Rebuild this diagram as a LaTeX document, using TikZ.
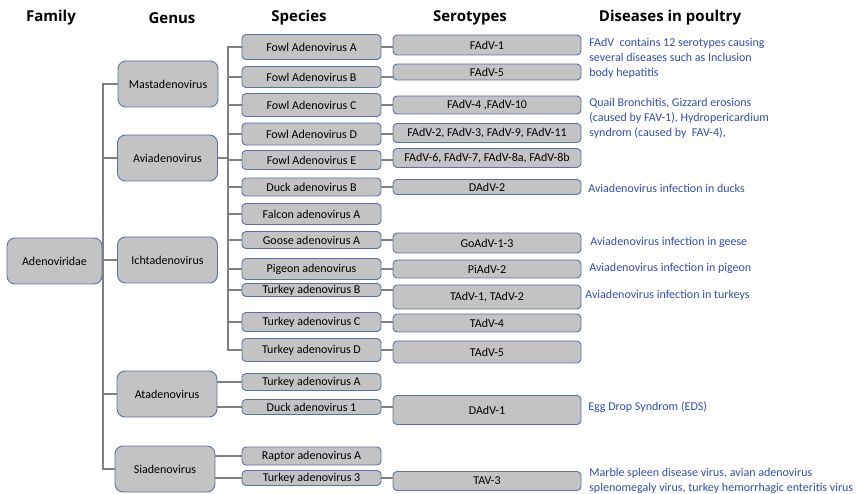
\documentclass[tikz,border=0pt]{standalone}
\usepackage{fontspec}
\setmainfont{Carlito}
\newfontfamily\headfont{Open Sans}
\usepackage{tikz}
\usetikzlibrary{positioning}

\definecolor{boxfill}{RGB}{195,195,195}
\definecolor{boxline}{RGB}{85,115,170}
\definecolor{linkgray}{RGB}{128,128,128}
\definecolor{diseaseblue}{RGB}{50,75,180}

\begin{document}
\begin{tikzpicture}[
    x = 1pt,
    y = -1pt,
    semithick,
    ]

    \tikzstyle{every node}=[font=\fontsize{12}{15}\selectfont]
    \tikzstyle{taxon}=[draw = boxline, fill = boxfill, line width=0.9pt, inner sep=0pt]
    \tikzstyle{genusbox}=[taxon, rounded corners=8pt, minimum width=100pt, minimum height=46pt]
    \tikzstyle{speciesbox}=[taxon, rounded corners=4pt, minimum width=139pt]
    \tikzstyle{serobox}=[taxon, rounded corners=4pt, minimum width=188pt]
    \tikzstyle{head}=[font=\headfont\bfseries\fontsize{15}{17}\selectfont]
    \tikzstyle{disease}=[text = diseaseblue, align=left, anchor=west, inner sep=0pt]
    \tikzstyle{link}=[draw = linkgray, line width=2pt]

    \useasboundingbox (0,0) rectangle (857,494);

    % column heads
    \node[head] (hfam) at (51,18) {Family};
    \node[head] (hgen) at (172,18) {Genus};
    \node[head] (hspe) at (299,18) {Species};
    \node[head] (hser) at (470,18) {Serotypes};
    \node[head] (hdis) at (670,18) {Diseases in poultry};

    % family and genera
    \node[genusbox, minimum width=95pt] (fam) at (54.5,261) {Adenoviridae};
    \node[genusbox] (mast) at (168,84) {Mastadenovirus};
    \node[genusbox] (avia) at (167.5,158) {Aviadenovirus};
    \node[genusbox] (icht) at (167.5,260) {Ichtadenovirus};
    \node[genusbox] (atad) at (167,394) {Atadenovirus};
    \node[genusbox] (siad) at (165,469) {Siadenovirus};

    % species
    \node[speciesbox, minimum height=25pt] (fowla) at (311.5,47) {Fowl Adenovirus A};
    \node[speciesbox, minimum height=21pt] (fowlb) at (311.5,77) {Fowl Adenovirus B};
    \node[speciesbox, minimum height=23pt] (fowlc) at (311.5,105) {Fowl Adenovirus C};
    \node[speciesbox, minimum height=22pt] (fowld) at (311.5,134) {Fowl Adenovirus D};
    \node[speciesbox, minimum height=19pt] (fowle) at (311.5,160) {Fowl Adenovirus E};
    \node[speciesbox, minimum height=18pt] (duckb) at (311.5,187) {Duck adenovirus B};
    \node[speciesbox, minimum height=21pt] (falcona) at (311.5,214) {Falcon adenovirus A};
    \node[speciesbox, minimum height=17pt] (goosea) at (311.5,240) {Goose adenovirus A};
    \node[speciesbox, minimum height=21pt] (pigeon) at (311.5,269) {Pigeon adenovirus};
    \node[speciesbox, minimum height=13pt] (turkb) at (311.5,290) {Turkey adenovirus B};
    \node[speciesbox, minimum height=19pt] (turkc) at (311.5,322) {Turkey adenovirus C};
    \node[speciesbox, minimum height=23pt] (turkd) at (311.5,350) {Turkey adenovirus D};
    \node[speciesbox, minimum height=17pt] (turka) at (311.5,382) {Turkey adenovirus A};
    \node[speciesbox, minimum height=15pt] (duck1) at (311.5,407) {Duck adenovirus 1};
    \node[speciesbox, minimum height=18pt] (raptora) at (311.5,456) {Raptor adenovirus A};
    \node[speciesbox, minimum height=15pt] (turk3) at (311.5,478) {Turkey adenovirus 3};

    % serotypes
    \node[serobox, minimum height=20pt] (fadv1) at (487,45) {FAdV-1};
    \node[serobox, minimum height=16pt] (fadv5) at (487,72) {FAdV-5};
    \node[serobox, minimum height=18pt] (fadv4) at (487,105) {FAdV-4 ,FAdV-10};
    \node[serobox, minimum height=19pt] (fadv2) at (487,133) {FAdV-2, FAdV-3, FAdV-9, FAdV-11};
    \node[serobox, minimum height=19pt] (fadv6) at (487,158) {FAdV-6, FAdV-7, FAdV-8a, FAdV-8b};
    \node[serobox, minimum height=15pt] (dadv2) at (487,187) {DAdV-2};
    \node[serobox, minimum height=20pt] (goadv) at (487,243) {GoAdV-1-3};
    \node[serobox, minimum height=18pt] (piadv) at (487,269) {PiAdV-2};
    \node[serobox, minimum height=24pt] (tadv1) at (487,297) {TAdV-1, TAdV-2};
    \node[serobox, minimum height=18pt] (tadv4) at (487,323) {TAdV-4};
    \node[serobox, minimum height=22pt] (tadv5) at (487,352) {TAdV-5};
    \node[serobox, minimum height=29pt] (dadv1) at (487,410) {DAdV-1};
    \node[serobox, minimum height=19pt] (tav3) at (487,481) {TAV-3};

    % diseases
    \node[disease] (dfowl) at (589,58) {FAdV\ \ contains 12 serotypes causing\\several diseases such as Inclusion\\body hepatitis};
    \node[disease] (dquail) at (589,118) {Quail Bronchitis, Gizzard erosions\\(caused by FAV-1), Hydropericardium\\syndrom (caused by\ \ FAV-4),};
    \node[disease] (dduck) at (588,188) {Aviadenovirus infection in ducks};
    \node[disease] (dgoose) at (590,242) {Aviadenovirus infection in geese};
    \node[disease] (dpigeon) at (589,268) {Aviadenovirus infection in pigeon};
    \node[disease] (dturkey) at (585,295) {Aviadenovirus infection in turkeys};
    \node[disease] (deds) at (588,407) {Egg Drop Syndrom (EDS)};
    \node[disease] (dmarble) at (589,480.5) {Marble spleen disease virus, avian adenovirus\\splenomegaly virus, turkey hemorrhagic enteritis virus};

    % family to genera
    \coordinate (gtrunk) at ([xshift=-15pt]mast.west);
    \draw[link] (mast.west) -- (gtrunk) |- (siad.west);
    \draw[link] (avia.west) -- (avia.west -| gtrunk);
    \draw[link] (icht.west) -- (icht.west -| gtrunk);
    \draw[link] (atad.west) -- (atad.west -| gtrunk);
    \draw[link] (fam.east) -- (fam.east -| gtrunk);

    % genera to species
    \coordinate (strunk) at ([xshift=-14pt]fowla.west);
    \draw[link] (fowla.west) -- (strunk) |- (turkd.west);
    \draw[link] (avia.east) -- (avia.east -| strunk);
    \draw[link] (fowlb.west) -- (fowlb.west -| strunk);
    \draw[link] (fowlc.west) -- (fowlc.west -| strunk);
    \draw[link] (fowld.west) -- (fowld.west -| strunk);
    \draw[link] (fowle.west) -- (fowle.west -| strunk);
    \draw[link] (duckb.west) -- (duckb.west -| strunk);
    \draw[link] (falcona.west) -- (falcona.west -| strunk);
    \draw[link] (goosea.west) -- (goosea.west -| strunk);
    \draw[link] (pigeon.west) -- (pigeon.west -| strunk);
    \draw[link] (turkb.west) -- (turkb.west -| strunk);
    \draw[link] (turkc.west) -- (turkc.west -| strunk);
    \draw[link] (turka.west -| atad.east) -- (turka.west);
    \draw[link] (duck1.west -| atad.east) -- (duck1.west);
    \draw[link] (raptora.west -| siad.east) -- (raptora.west);
    \draw[link] (turk3.west -| siad.east) -- (turk3.west);

    % species to serotypes
    \draw[link] (fowla.east) -- (fowla.east -| fadv1.west);
    \draw[link] (fowlb.east) -- (fowlb.east -| fadv5.west);
    \draw[link] (fowlc.east) -- (fowlc.east -| fadv4.west);
    \draw[link] (fowld.east) -- (fowld.east -| fadv2.west);
    \draw[link] (fowle.east) -- (fowle.east -| fadv6.west);
    \draw[link] (duckb.east) -- (duckb.east -| dadv2.west);
    \draw[link] (goosea.east) -- (goosea.east -| goadv.west);
    \draw[link] (pigeon.east) -- (pigeon.east -| piadv.west);
    \draw[link] (turkb.east) -- (turkb.east -| tadv1.west);
    \draw[link] (turkc.east) -- (turkc.east -| tadv4.west);
    \draw[link] (turkd.east) -- (turkd.east -| tadv5.west);
    \draw[link] (duck1.east) -- (duck1.east -| dadv1.west);
    \draw[link] (turk3.east) -- (turk3.east -| tav3.west);
  \end{tikzpicture}
\end{document}
